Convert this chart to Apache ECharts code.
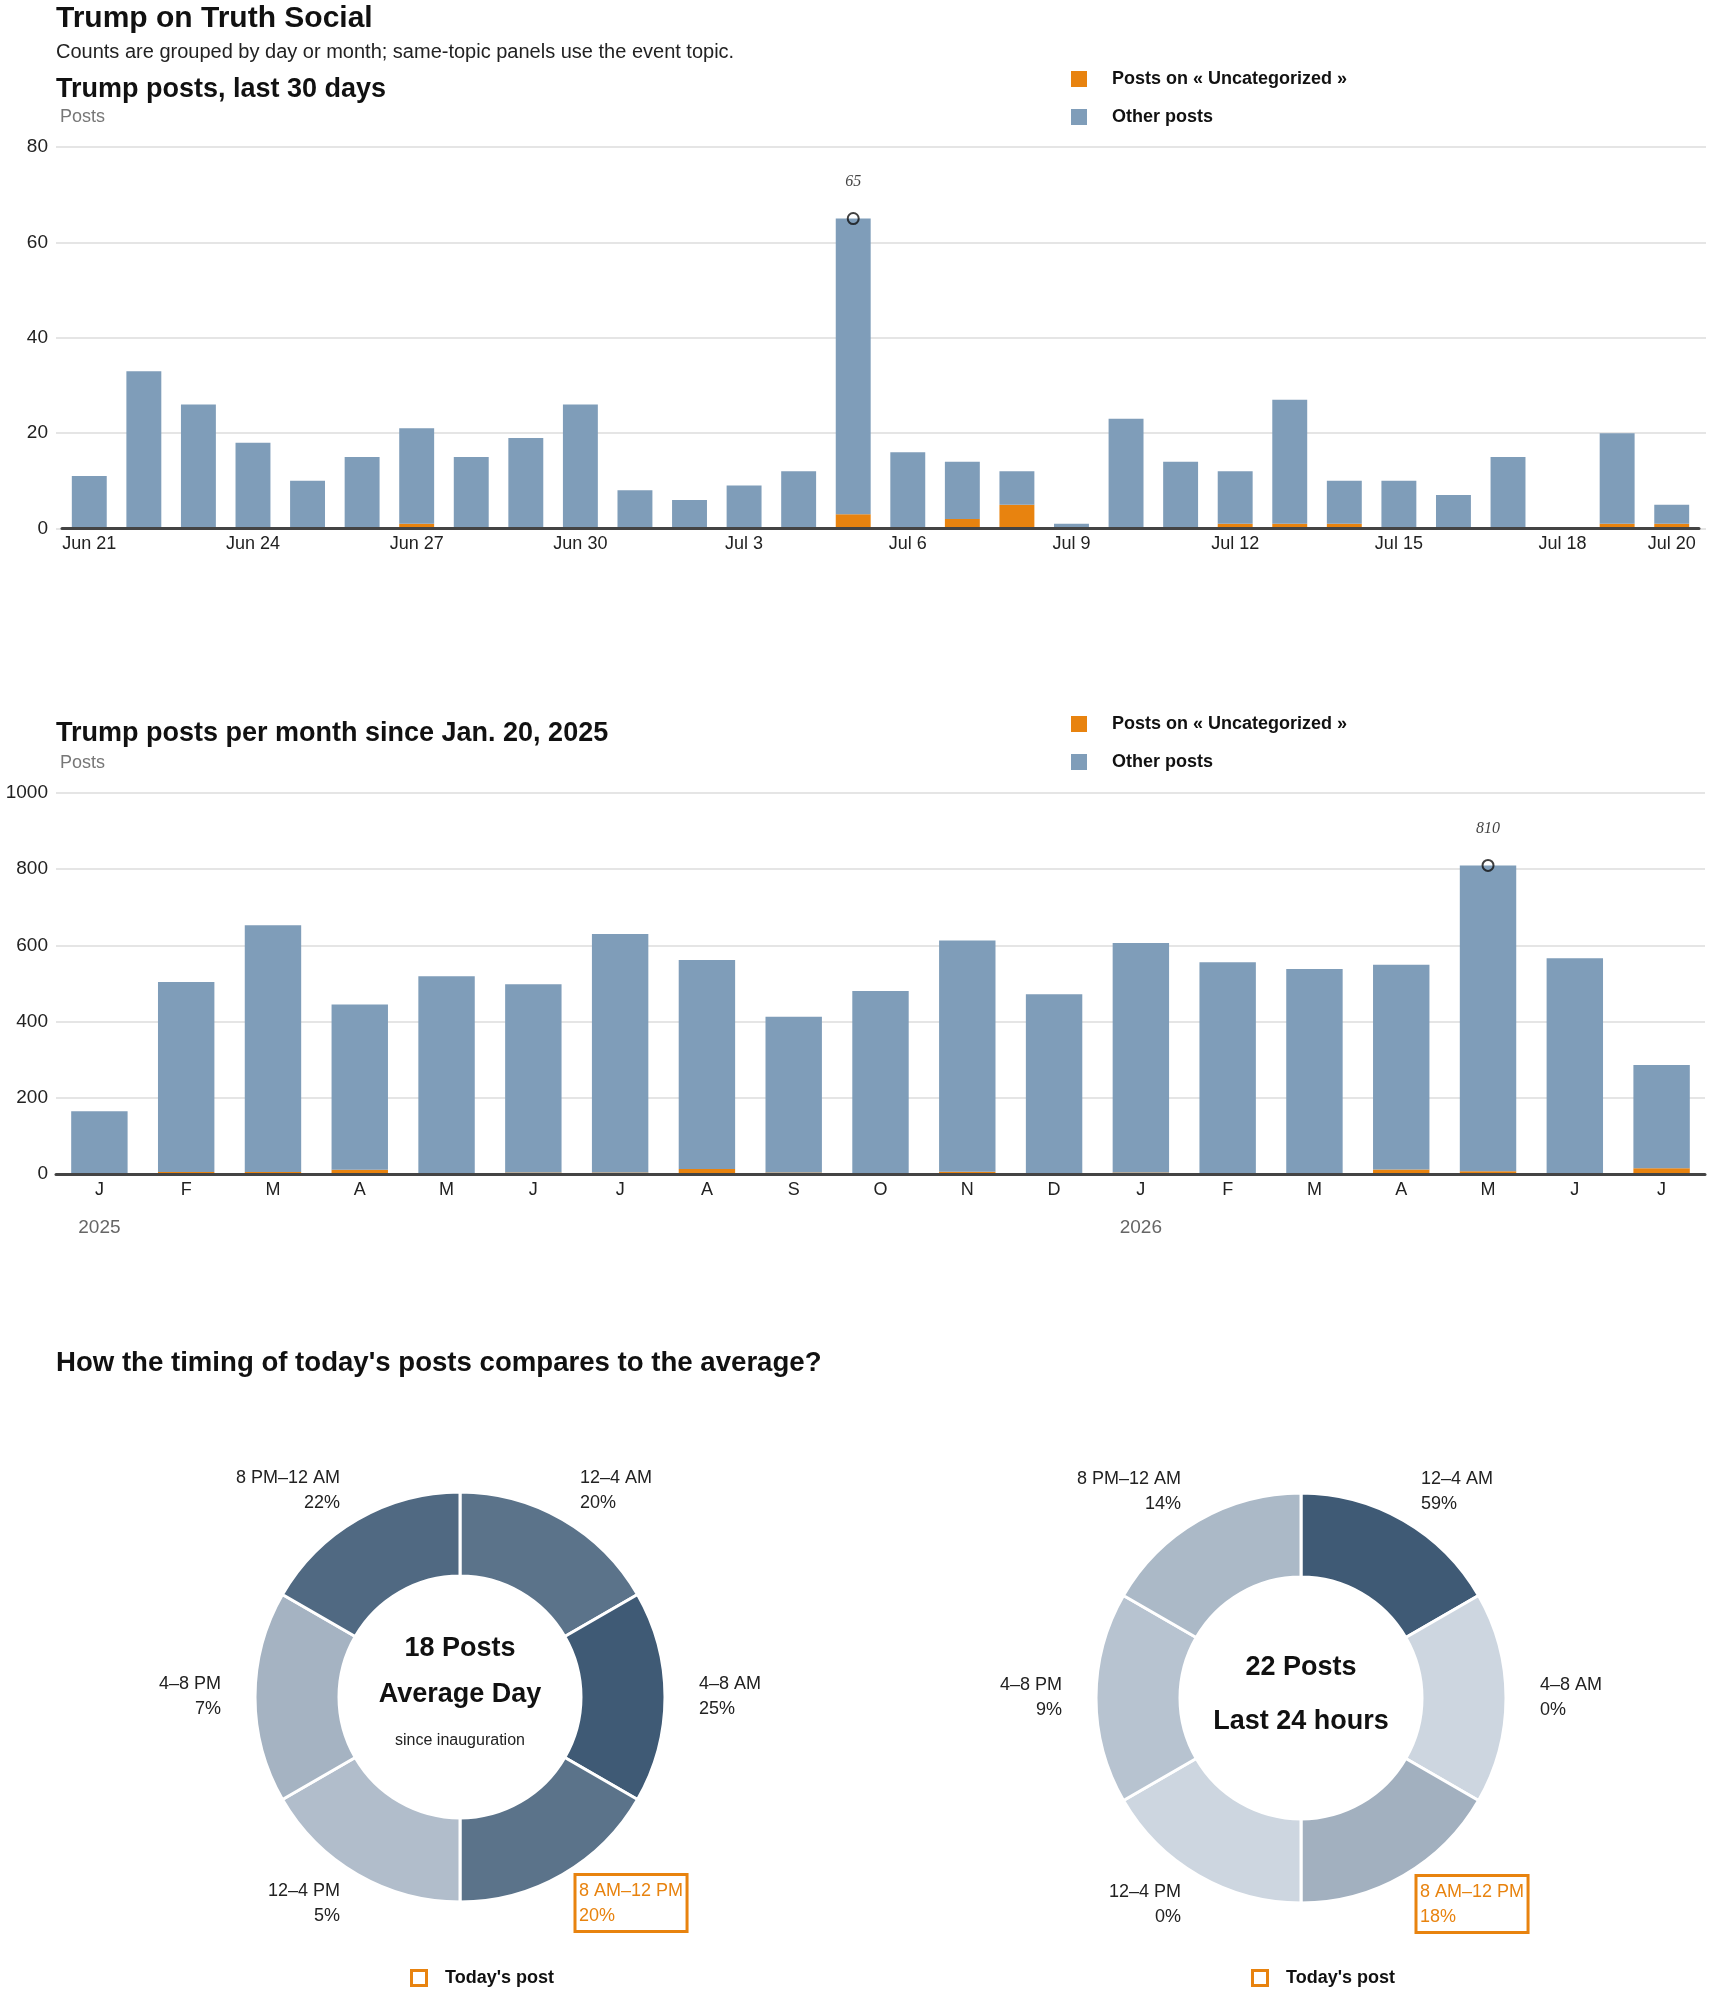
<!DOCTYPE html>
<html><head><meta charset="utf-8">
<script src="https://cdn.jsdelivr.net/npm/echarts@6/dist/echarts.min.js"></script>
<style>html,body{margin:0;padding:0;background:#fff}#c{width:1710px;height:1993px}</style>
</head><body><div id="c"></div>
<script>
// ---------- DATA ----------
const dayLabels = ['Jun 21','Jun 22','Jun 23','Jun 24','Jun 25','Jun 26','Jun 27','Jun 28','Jun 29','Jun 30',
  'Jul 1','Jul 2','Jul 3','Jul 4','Jul 5','Jul 6','Jul 7','Jul 8','Jul 9','Jul 10',
  'Jul 11','Jul 12','Jul 13','Jul 14','Jul 15','Jul 16','Jul 17','Jul 18','Jul 19','Jul 20'];
const dailyUncategorized = [0,0,0,0,0,0,1,0,0,0, 0,0,0,0,3,0,2,5,0,0, 0,1,1,1,0,0,0,0,1,1];
const dailyOther         = [11,33,26,18,10,15,20,15,19,26, 8,6,9,12,62,16,12,7,1,23, 14,11,26,9,10,7,15,0,19,4];

const monthKeys = ['2025-01','2025-02','2025-03','2025-04','2025-05','2025-06','2025-07','2025-08','2025-09','2025-10',
  '2025-11','2025-12','2026-01','2026-02','2026-03','2026-04','2026-05','2026-06','2026-07'];
const monthlyUncategorized = [0,5,5,11,0,4,4,13,4,0,6,0,4,0,0,12,7,0,15];
const monthlyOther         = [165,499,648,434,519,494,626,549,409,480,607,472,602,556,538,537,803,566,271];
const monthLetters = ['J','F','M','A','M','J','J','A','S','O','N','D'];

const timeSlots  = ['12–4 AM','4–8 AM','8 AM–12 PM','12–4 PM','4–8 PM','8 PM–12 AM'];
const slotHours  = [4,4,4,4,4,4];
const avgShare   = [20,25,20,5,7,22];
const todayShare = [59,0,18,0,9,14];
const avgPostsPerDay = 18;
const last24Posts = 22;
const todaySlot = '8 AM–12 PM';

const UNC = 'Posts on « Uncategorized »';
const OTH = 'Other posts';

// ---------- STYLE ----------
const F = "'Liberation Sans', Arial, Helvetica, sans-serif";
const ORANGE = '#e8830f';
const BLUE = '#7f9db9';
const INK = '#111';

const dailyTotals = dailyUncategorized.map((u, i) => u + dailyOther[i]);
const dMax = Math.max(...dailyTotals), dIdx = dailyTotals.indexOf(dMax);
const monthlyTotals = monthlyUncategorized.map((u, i) => u + monthlyOther[i]);
const mMax = Math.max(...monthlyTotals), mIdx = monthlyTotals.indexOf(mMax);

function txt(text, x, y, size, opts) {
  opts = opts || {};
  return { type: 'text', silent: true, style: {
    text, x, y, fill: opts.fill || INK,
    font: (opts.weight || 'normal') + ' ' + size + 'px ' + F,
    align: opts.align || 'left', verticalAlign: 'middle',
    textAlign: opts.align || 'left', textVerticalAlign: 'middle'
  } };
}

function legend(top) {
  return {
    orient: 'vertical', left: 1071, top, padding: 0, itemWidth: 16, itemHeight: 16, itemGap: 20,
    icon: 'rect', selectedMode: false, data: [UNC, OTH],
    formatter: n => '{t|' + n + '}',
    textStyle: { rich: { t: { fontFamily: F, fontSize: 18, fontWeight: 'bold', color: INK, lineHeight: 20, padding: [0,0,0,20] } } }
  };
}

function marker(xi, yi, idx, val) {
  return {
    type: 'scatter', xAxisIndex: xi, yAxisIndex: yi, data: [[idx, val]], symbol: 'circle', symbolSize: 11, z: 6,
    itemStyle: { color: 'rgba(255,255,255,0)', borderColor: '#111', borderWidth: 2 },
    label: { show: true, position: 'top', distance: 22, formatter: p => p.value[1],
      fontFamily: "'Liberation Serif', serif", fontStyle: 'italic', fontSize: 16, color: '#111' }
  };
}

function pie(center, shares) {
  const max = Math.max(...shares);
  return {
    type: 'pie', center, radius: [121, 205], startAngle: 90, clockwise: true,
    avoidLabelOverlap: false, silent: true,
    label: { show: true, position: 'outside', alignTo: 'none', distanceToLabelLine: 1,
      formatter: p => p.name + '\n' + shares[p.dataIndex] + '%',
      fontFamily: F, fontSize: 18, lineHeight: 25, color: '#222' },
    labelLine: { show: false, length: 33, length2: 0 },
    itemStyle: { borderColor: '#fff', borderWidth: 3 },
    emphasis: { disabled: true },
    data: timeSlots.map((s, i) => {
      const d = { name: s, value: slotHours[i],
        itemStyle: { color: echarts.color.lerp(shares[i] / max, ['#cdd6e0', '#3f5a75']) } };
      if (s === todaySlot) d.label = { color: ORANGE, borderColor: ORANGE, borderWidth: 3,
        padding: [4, 4, 3, 4], distanceToLabelLine: -4 };
      return d;
    })
  };
}

const axisLine = { lineStyle: { color: '#444', width: 3 } };
const split = { lineStyle: { color: '#dcdcdc', width: 1.5 } };

const option = {
  animation: false,
  backgroundColor: '#fff',
  textStyle: { fontFamily: F },
  legend: [legend(70), legend(715)],
  grid: [
    { left: 62, right: 11, top: 147, height: 381.5 },
    { left: 56, right: 5, top: 793, height: 381 },
    { left: 56, right: 4, top: 147, height: 381.5 }
  ],
  xAxis: [
    { type: 'category', gridIndex: 0, data: dayLabels, z: 5, axisLine, axisTick: { show: false },
      axisLabel: { interval: (i) => i % 3 === 0 || i === dayLabels.length - 1, fontSize: 18, lineHeight: 20,
        color: '#222', margin: 6 } },
    { type: 'category', gridIndex: 1, data: monthKeys, z: 5, axisLine, axisTick: { show: false },
      axisLabel: { interval: 0, margin: 6,
        formatter: v => { const [y, m] = v.split('-'); const l = monthLetters[+m - 1];
          return m === '01' ? '{m|' + l + '}\n{y|' + y + '}' : '{m|' + l + '}'; },
        rich: { m: { fontSize: 18, lineHeight: 20, color: '#222' }, y: { fontSize: 19, lineHeight: 56, color: '#666' } } } },
    { type: 'value', gridIndex: 2, min: 0, max: 1, show: false }
  ],
  yAxis: [
    { type: 'value', gridIndex: 0, min: 0, max: 80, interval: 20, axisLine: { show: false }, axisTick: { show: false },
      splitLine: { show: false }, axisLabel: { fontSize: 19, color: '#222', margin: 14 } },
    { type: 'value', gridIndex: 1, min: 0, max: 1000, interval: 200, axisLine: { show: false }, axisTick: { show: false },
      splitLine: split, axisLabel: { fontSize: 19, color: '#222', margin: 8, formatter: v => String(v) } },
    { type: 'value', gridIndex: 2, min: 0, max: 80, interval: 20, axisLine: { show: false }, axisTick: { show: false },
      axisLabel: { show: false }, splitLine: split }
  ],
  series: [
    { name: UNC, type: 'bar', stack: 'd', xAxisIndex: 0, yAxisIndex: 0, data: dailyUncategorized, barWidth: '64%', itemStyle: { color: ORANGE } },
    { name: OTH, type: 'bar', stack: 'd', xAxisIndex: 0, yAxisIndex: 0, data: dailyOther, barWidth: '64%', itemStyle: { color: BLUE } },
    marker(0, 0, dIdx, dMax),
    { name: UNC, type: 'bar', stack: 'm', xAxisIndex: 1, yAxisIndex: 1, data: monthlyUncategorized, barWidth: '65%', itemStyle: { color: ORANGE } },
    { name: OTH, type: 'bar', stack: 'm', xAxisIndex: 1, yAxisIndex: 1, data: monthlyOther, barWidth: '65%', itemStyle: { color: BLUE } },
    marker(1, 1, mIdx, mMax),
    pie([460, 1697], avgShare),
    pie([1301, 1698], todayShare)
  ],
  graphic: [
    txt('Trump on Truth Social', 56, 19, 30, { weight: 'bold' }),
    txt('Counts are grouped by day or month; same-topic panels use the event topic.', 56, 52, 20, { fill: '#222' }),
    txt('Trump posts, last 30 days', 56, 90, 27, { weight: 'bold' }),
    txt('Posts', 60, 117, 18, { fill: '#777' }),
    txt('Trump posts per month since Jan. 20, 2025', 56, 734, 27, { weight: 'bold' }),
    txt('Posts', 60, 763, 18, { fill: '#777' }),
    txt("How the timing of today's posts compares to the average?", 56, 1363, 27.6, { weight: 'bold' }),
    txt(avgPostsPerDay + ' Posts', 460, 1649, 27, { weight: 'bold', align: 'center' }),
    txt('Average Day', 460, 1695, 27, { weight: 'bold', align: 'center' }),
    txt('since inauguration', 460, 1741, 16, { align: 'center', fill: '#222' }),
    txt(last24Posts + ' Posts', 1301, 1668, 27, { weight: 'bold', align: 'center' }),
    txt('Last 24 hours', 1301, 1722, 27, { weight: 'bold', align: 'center' }),
    { type: 'rect', silent: true, shape: { x: 411.5, y: 1970.5, width: 15, height: 15 }, style: { fill: '#fff', stroke: ORANGE, lineWidth: 3 } },
    txt("Today's post", 445, 1978, 18, { weight: 'bold' }),
    { type: 'rect', silent: true, shape: { x: 1252.5, y: 1970.5, width: 15, height: 15 }, style: { fill: '#fff', stroke: ORANGE, lineWidth: 3 } },
    txt("Today's post", 1286, 1978, 18, { weight: 'bold' })
  ]
};

const chart = echarts.init(document.getElementById('c'), null, { renderer: 'canvas' });
chart.setOption(option);
</script>
</body></html>
